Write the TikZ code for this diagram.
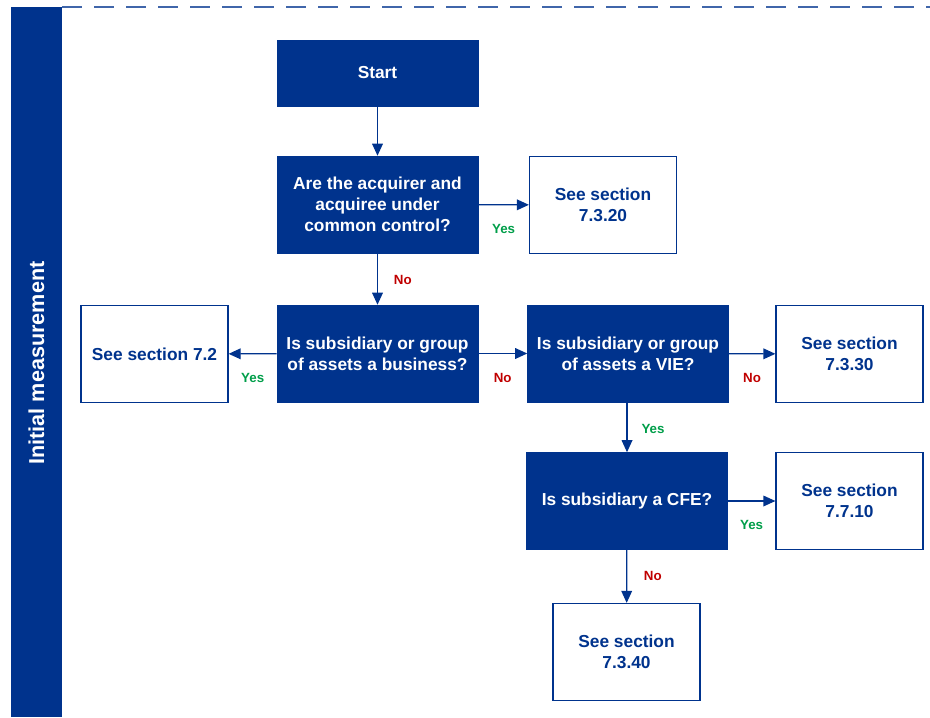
\documentclass[tikz,border=0pt]{standalone}
\usepackage{fontspec}
\setmainfont{Liberation Sans}
\usetikzlibrary{arrows.meta, positioning}

\definecolor{kblue}{RGB}{0,51,141}
\definecolor{kgreen}{RGB}{0,158,73}
\definecolor{kred}{RGB}{192,0,0}

\tikzset{
    question/.style={fill=kblue, draw=kblue, text=white, align=center,
        minimum width=150.75pt, minimum height=72.75pt, inner sep=0pt,
        font=\fontsize{13}{15.75}\selectfont\bfseries},
    seebox/.style={fill=white, draw=kblue, line width=0.9pt, text=kblue, align=center,
        minimum width=110.25pt, minimum height=72.75pt, inner sep=0pt,
        font=\fontsize{13}{15.75}\selectfont\bfseries},
    flow/.style={draw=kblue, line width=0.9pt, -{Triangle[length=9pt, width=8pt]}},
    yes/.style={text=kgreen, inner sep=0pt, font=\fontsize{10}{12}\selectfont\bfseries},
    no/.style={text=kred, inner sep=0pt, font=\fontsize{10}{12}\selectfont\bfseries}
}

\begin{document}
\begin{tikzpicture}[x=0.75pt, y=-0.75pt]

        \useasboundingbox (0,0) rectangle (930,717);

        % ==========================================
        % Banda laterale e linea tratteggiata
        % ==========================================
        \fill[kblue] (11,7) rectangle (62,717);
        \draw[kblue!75, line width=1.4pt, dash pattern=on 15pt off 9pt] (62,7) -- (930,7);
        \node[rotate=90, text=white, font=\fontsize{16.2}{19}\selectfont\bfseries] (side) at (36.5,363) {Initial measurement};

        % ==========================================
        % Colonna centrale
        % ==========================================
        \node[question, minimum height=49.5pt] (start) at (377.5,73) {Start};
        \node[question] (common) at (377.5,204.5) {Are the acquirer and\\acquiree under\\common control?};
        \node[question] (business) at (377.5,353.5) {Is subsidiary or group\\of assets a business?};

        % ==========================================
        % Domande a destra
        % ==========================================
        \node[question] (vie) at (628,353.5) {Is subsidiary or group\\of assets a VIE?};
        \node[question] (cfe) at (627,501) {Is subsidiary a CFE?};

        % ==========================================
        % Rimandi alle sezioni
        % ==========================================
        \node[seebox] (s7320) at (603,205) {See section\\7.3.20};
        \node[seebox] (s72) at (154.5,354) {See section 7.2};
        \node[seebox] (s7330) at (849.5,354) {See section\\7.3.30};
        \node[seebox] (s7710) at (849.5,501) {See section\\7.7.10};
        \node[seebox] (s7340) at (626.5,652) {See section\\7.3.40};

        % ==========================================
        % Frecce con etichette
        % ==========================================
        \draw[flow] (start) -- (common);
        \draw[flow] (common) -- node[yes, yshift=-18pt] {Yes} (s7320);
        \draw[flow] (common) -- node[no, xshift=19pt, yshift=-1pt] {No} (business);
        \draw[flow] (business) -- node[yes, yshift=-18pt] {Yes} (s72);
        \draw[flow] (business) -- node[no, yshift=-18pt] {No} (vie);
        \draw[flow] (vie) -- node[no, yshift=-18pt] {No} (s7330);
        \draw[flow] (vie.south -| cfe.north) -- node[yes, xshift=19.5pt, yshift=-1pt] {Yes} (cfe.north);
        \draw[flow] (cfe) -- node[yes, yshift=-18pt] {Yes} (s7710);
        \draw[flow] (cfe) -- node[no, xshift=19.5pt] {No} (s7340);

\end{tikzpicture}
\end{document}
